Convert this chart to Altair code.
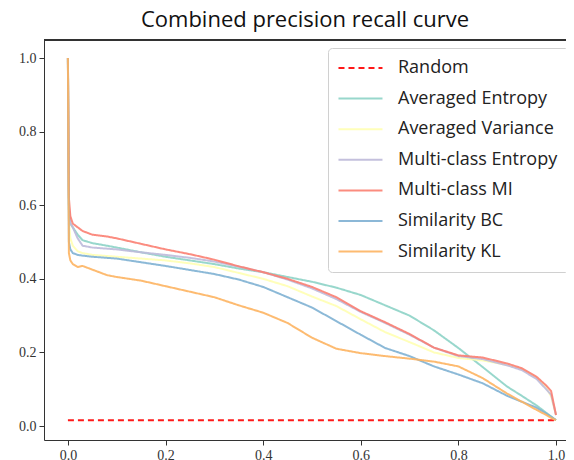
import altair as alt
import pandas as pd

recall = [0, 0.002, 0.005, 0.01, 0.02, 0.03, 0.05, 0.08, 0.1, 0.15, 0.2, 0.25, 0.3, 0.35,
          0.4, 0.45, 0.5, 0.55, 0.6, 0.65, 0.7, 0.75, 0.8, 0.85, 0.9, 0.93, 0.96, 0.98, 0.99, 1.0]

averaged_entropy = [1.0, 0.59, 0.55, 0.54, 0.52, 0.505, 0.497, 0.49, 0.485, 0.472, 0.46, 0.45, 0.44, 0.428,
                    0.418, 0.405, 0.392, 0.376, 0.356, 0.328, 0.3, 0.26, 0.212, 0.16, 0.107, 0.082, 0.056, 0.036, 0.026, 0.016]
averaged_variance = [1.0, 0.56, 0.51, 0.49, 0.475, 0.47, 0.465, 0.462, 0.46, 0.455, 0.45, 0.442, 0.432, 0.416,
                     0.4, 0.38, 0.352, 0.326, 0.29, 0.255, 0.228, 0.2, 0.185, 0.178, 0.166, 0.155, 0.132, 0.105, 0.08, 0.03]
multiclass_entropy = [1.0, 0.6, 0.55, 0.54, 0.51, 0.49, 0.485, 0.482, 0.48, 0.472, 0.465, 0.457, 0.447, 0.433,
                      0.418, 0.398, 0.374, 0.345, 0.31, 0.28, 0.248, 0.213, 0.19, 0.182, 0.165, 0.152, 0.128, 0.1, 0.085, 0.03]
multiclass_mi = [1.0, 0.62, 0.57, 0.55, 0.54, 0.53, 0.52, 0.515, 0.51, 0.495, 0.48, 0.467, 0.452, 0.434,
                 0.418, 0.4, 0.378, 0.35, 0.312, 0.282, 0.25, 0.213, 0.192, 0.186, 0.17, 0.157, 0.134, 0.11, 0.095, 0.03]
similarity_bc = [1.0, 0.5, 0.48, 0.47, 0.465, 0.463, 0.46, 0.457, 0.455, 0.445, 0.435, 0.424, 0.413, 0.398,
                 0.378, 0.35, 0.322, 0.285, 0.248, 0.212, 0.19, 0.162, 0.14, 0.116, 0.082, 0.066, 0.05, 0.034, 0.025, 0.016]
similarity_kl = [1.0, 0.47, 0.45, 0.44, 0.432, 0.435, 0.425, 0.41, 0.405, 0.395, 0.38, 0.365, 0.35, 0.328,
                 0.308, 0.28, 0.24, 0.21, 0.198, 0.19, 0.183, 0.175, 0.162, 0.13, 0.088, 0.066, 0.044, 0.03, 0.022, 0.016]

random_recall = [0.0, 1.0]
random_precision = [0.016, 0.016]

names = ["Random", "Averaged Entropy", "Averaged Variance", "Multi-class Entropy",
         "Multi-class MI", "Similarity BC", "Similarity KL"]
colors = ["#ff0000", "#8dd3c7", "#ffffb3", "#bebada", "#fb8072", "#80b1d3", "#fdb462"]
dashes = [[6, 4], [1, 0], [1, 0], [1, 0], [1, 0], [1, 0], [1, 0]]

series = [averaged_entropy, averaged_variance, multiclass_entropy, multiclass_mi, similarity_bc, similarity_kl]

rows = []
for i, (r, p) in enumerate(zip(random_recall, random_precision)):
    rows.append({"recall": r, "precision": p, "method": "Random", "order": i})
for name, vals in zip(names[1:], series):
    for i, (r, p) in enumerate(zip(recall, vals)):
        rows.append({"recall": r, "precision": p, "method": name, "order": i})
df = pd.DataFrame(rows)

W, H = 522, 400

lines = alt.Chart(df).mark_line(strokeWidth=2, opacity=0.9, clip=True).encode(
    x=alt.X("recall:Q", scale=alt.Scale(domain=[-0.049, 1.0205], nice=False, zero=False),
            axis=alt.Axis(values=[0, 0.2, 0.4, 0.6, 0.8, 1.0], format=".1f", title=None, grid=False)),
    y=alt.Y("precision:Q", scale=alt.Scale(domain=[-0.038, 1.049], nice=False, zero=False),
            axis=alt.Axis(values=[0, 0.2, 0.4, 0.6, 0.8, 1.0], format=".1f", title=None, grid=False)),
    color=alt.Color("method:N", scale=alt.Scale(domain=names, range=colors),
                    legend=alt.Legend(title=None, orient="none", legendX=284, legendY=8)),
    strokeDash=alt.StrokeDash("method:N", scale=alt.Scale(domain=names, range=dashes),
                              legend=alt.Legend(title=None, orient="none", legendX=284, legendY=8)),
    order="order:Q",
    detail="method:N",
)

top_spine = alt.Chart(df).mark_rule(color="#333", strokeWidth=1).encode(
    x=alt.value(0), x2=alt.value(W), y=alt.value(0)
)

chart = alt.layer(lines, top_spine).properties(
    width=W, height=H,
    title=alt.Title("Combined precision recall curve", fontSize=22, font="Open Sans",
                    fontWeight="normal", color="#111", offset=8),
    autosize=alt.AutoSizeParams(type="none"),
    padding={"left": 36, "top": 32, "right": 0, "bottom": 20},
).configure_view(stroke=None).configure_axis(
    domainColor="#333", domainWidth=1, tickColor="#333", tickSize=5,
    labelFont="Liberation Serif", labelFontSize=14, labelColor="#333", labelPadding=3,
).configure_legend(
    fillColor="white", strokeColor="#d0d0d0", cornerRadius=4, padding=11,
    labelFont="Open Sans", labelFontSize=18, labelColor="#222", labelOffset=41,
    symbolType="M-1.73,0H6.27", symbolSize=121, symbolStrokeWidth=2, rowPadding=12.6,
    labelLimit=300,
)

chart.save("out.html", embed_options={"renderer": "svg", "actions": False})
